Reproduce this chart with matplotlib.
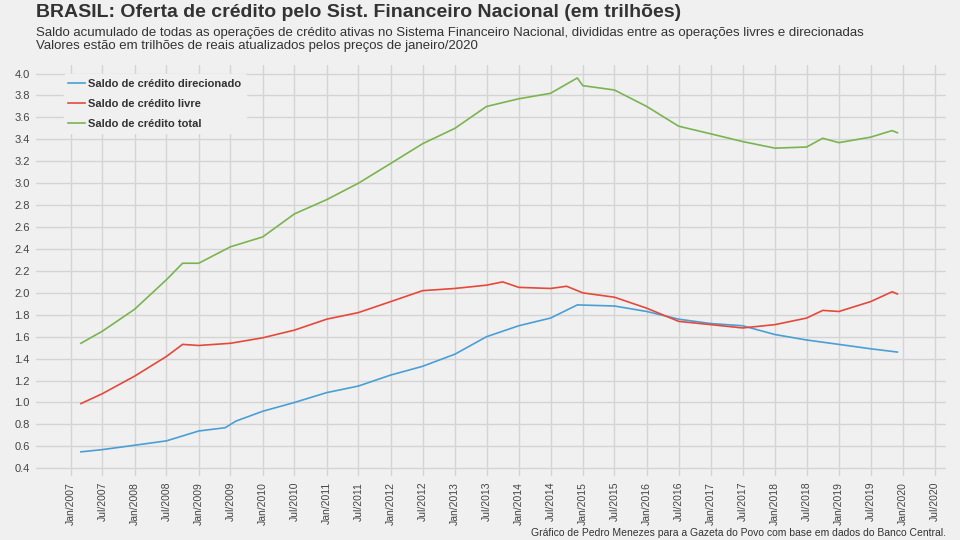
import pandas as pd
import matplotlib.pyplot as plt

plt.rcParams.update({
    'font.family': ['Liberation Sans', 'DejaVu Sans'],
    'figure.dpi': 100,
})

# Saldo de crédito total (trilhões)
total_dates = ['2007-03', '2007-07', '2008-01', '2008-07', '2008-10', '2009-01', '2009-07',
               '2010-01', '2010-07', '2011-01', '2011-07', '2012-01', '2012-07', '2013-01',
               '2013-07', '2014-01', '2014-07', '2014-12', '2015-01', '2015-07', '2016-01',
               '2016-07', '2017-01', '2017-07', '2018-01', '2018-07', '2018-10', '2019-01',
               '2019-07', '2019-11', '2019-12']
total_vals = [1.54, 1.65, 1.85, 2.12, 2.27, 2.27, 2.42, 2.51, 2.72, 2.85, 3.00, 3.18, 3.36, 3.50,
              3.70, 3.77, 3.82, 3.96, 3.89, 3.85, 3.70, 3.52, 3.45, 3.38, 3.32, 3.33, 3.41, 3.37,
              3.42, 3.48, 3.46]

# Saldo de crédito livre
livre_dates = ['2007-03', '2007-07', '2008-01', '2008-07', '2008-10', '2009-01', '2009-07',
               '2010-01', '2010-07', '2011-01', '2011-07', '2012-01', '2012-07', '2013-01',
               '2013-07', '2013-10', '2014-01', '2014-07', '2014-10', '2015-01', '2015-07',
               '2016-01', '2016-07', '2017-01', '2017-07', '2018-01', '2018-07', '2018-10',
               '2019-01', '2019-07', '2019-11', '2019-12']
livre_vals = [0.99, 1.08, 1.24, 1.42, 1.53, 1.52, 1.54, 1.59, 1.66, 1.76, 1.82, 1.92, 2.02, 2.04,
              2.07, 2.10, 2.05, 2.04, 2.06, 2.00, 1.96, 1.86, 1.74, 1.71, 1.68, 1.71, 1.77, 1.84,
              1.83, 1.92, 2.01, 1.99]

# Saldo de crédito direcionado
dir_dates = ['2007-03', '2007-07', '2008-01', '2008-07', '2009-01', '2009-06', '2009-08',
             '2010-01', '2010-07', '2011-01', '2011-07', '2012-01', '2012-07', '2013-01',
             '2013-07', '2014-01', '2014-07', '2014-12', '2015-07', '2016-01', '2016-07',
             '2017-01', '2017-07', '2018-01', '2018-07', '2019-01', '2019-07', '2019-12']
dir_vals = [0.55, 0.57, 0.61, 0.65, 0.74, 0.77, 0.83, 0.92, 1.00, 1.09, 1.15, 1.25, 1.33, 1.44,
            1.60, 1.70, 1.77, 1.89, 1.88, 1.83, 1.76, 1.72, 1.70, 1.62, 1.57, 1.53, 1.49, 1.46]

bg = '#f0f0f0'
fig = plt.figure(figsize=(9.6, 5.4), facecolor=bg)
ax = fig.add_axes([0.037, 0.118, 0.948, 0.762], facecolor=bg)

ax.plot(pd.to_datetime(dir_dates), dir_vals, color='#4a9fd5', lw=1.2, label='Saldo de crédito direcionado')
ax.plot(pd.to_datetime(livre_dates), livre_vals, color='#e5493a', lw=1.2, label='Saldo de crédito livre')
ax.plot(pd.to_datetime(total_dates), total_vals, color='#7ab451', lw=1.2, label='Saldo de crédito total')

ticks = pd.date_range('2007-01-01', '2020-07-01', freq='6MS')
ax.set_xticks(ticks)
ax.set_xticklabels([t.strftime('%b/%Y') for t in ticks], rotation=90, fontsize=7.5, color='#444444')
ax.set_xlim(pd.Timestamp('2006-06-15'), pd.Timestamp('2020-09-01'))
ax.set_ylim(0.327, 4.08)
ax.set_yticks([0.4 + 0.2 * i for i in range(19)])
ax.set_yticklabels([f'{0.4 + 0.2 * i:.1f}' for i in range(19)], fontsize=8, color='#444444')
ax.grid(True, color='#d4d4d4', lw=1)
ax.set_axisbelow(True)
for s in ax.spines.values():
    s.set_visible(False)
ax.tick_params(length=0, pad=4)

leg = ax.legend(loc='upper left', bbox_to_anchor=(0.025, 0.99), frameon=True, fontsize=8,
                handlelength=1.5, handletextpad=0.3, labelspacing=0.9)
leg.get_frame().set_facecolor(bg)
leg.get_frame().set_edgecolor(bg)
leg.get_frame().set_alpha(1)
for t in leg.get_texts():
    t.set_fontweight('bold')
    t.set_color('#333333')

fig.text(0.037, 0.977, 'BRASIL: Oferta de crédito pelo Sist. Financeiro Nacional (em trilhões)',
         fontsize=14, fontweight='bold', color='#333333', va='center')
fig.text(0.037, 0.939, 'Saldo acumulado de todas as operações de crédito ativas no Sistema Financeiro Nacional, divididas entre as operações livres e direcionadas',
         fontsize=9.5, color='#333333', va='center')
fig.text(0.037, 0.914, 'Valores estão em trilhões de reais atualizados pelos preços de janeiro/2020',
         fontsize=9.5, color='#333333', va='center')
fig.text(0.985, 0.008, 'Gráfico de Pedro Menezes para a Gazeta do Povo com base em dados do Banco Central.',
         fontsize=7.5, color='#333333', ha='right')

fig.savefig('out.png', dpi=100, facecolor=bg)
